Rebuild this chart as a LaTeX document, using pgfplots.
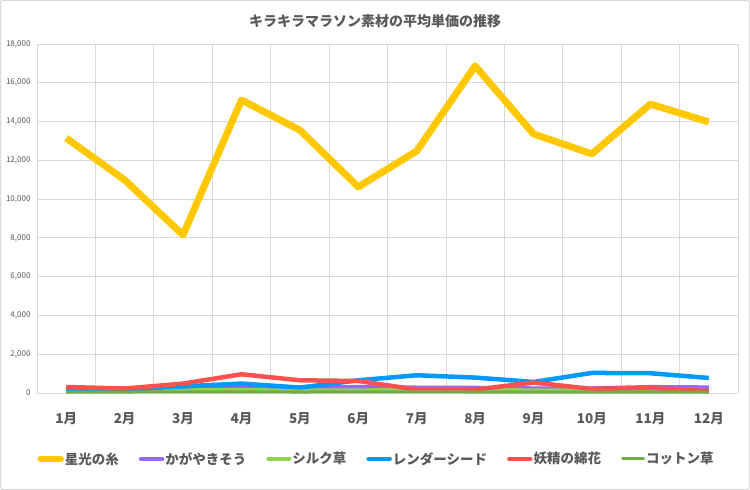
\documentclass[border=0pt]{standalone}
\usepackage{pgfplots}
\pgfplotsset{compat=1.18}
\usepackage{fontspec}
\setmainfont{Noto Sans CJK JP}
\definecolor{cyel}{HTML}{FFC800}
\definecolor{cpur}{HTML}{9966FF}
\definecolor{clgr}{HTML}{92D050}
\definecolor{cblu}{HTML}{0099FF}
\definecolor{cred}{HTML}{FF5050}
\definecolor{cdgr}{HTML}{70AD47}
\definecolor{ctxt}{HTML}{595959}
\definecolor{cgrid}{HTML}{D9D9D9}
\begin{document}
\begin{tikzpicture}[x=1pt,y=1pt]
\path[use as bounding box] (0,0) rectangle (750,490);
\draw[cgrid, line width=1pt, rounded corners=2pt] (0.5,0.5) rectangle (749.5,489.5);
\node[text=ctxt, font=\fontsize{14}{16}\selectfont\bfseries] at (375,469) {キラキラマラソン素材の平均単価の推移};
\begin{axis}[
  at={(37pt,97pt)}, anchor=south west,
  width=701pt, height=349pt, scale only axis,
  xmin=0.5, xmax=12.5, ymin=0, ymax=18000,
  xtick={1,...,12},
  xticklabels={1月,2月,3月,4月,5月,6月,7月,8月,9月,10月,11月,12月},
  minor xtick={0.5,1.5,...,12.5},
  ytick={0,2000,...,18000},
  xminorgrids=true, ymajorgrids=true, xmajorgrids=false,
  grid style={cgrid, line width=0.8pt},
  minor grid style={cgrid, line width=0.8pt},
  axis line style={draw=none},
  major tick length=0pt, minor tick length=0pt,
  tick style={draw=none},
  x tick label style={text=ctxt, font=\fontsize{13.5}{15}\selectfont\bfseries, anchor=center, yshift=-26pt},
  y tick label style={text=ctxt, font=\fontsize{8}{10}\selectfont, xshift=-3pt},
  scaled y ticks=false,
  yticklabel style={/pgf/number format/.cd, 1000 sep={,}, assume math mode=true},
  legend columns=6,
  legend style={at={(0.4836,-0.189)}, anchor=center, draw=none, fill=none,
    font=\fontsize{13.5}{15}\selectfont\bfseries, text=ctxt,
    nodes={inner xsep=1pt},
    /tikz/every even column/.append style={column sep=19pt},
    /tikz/every odd column/.append style={column sep=0pt}},
  legend cell align=left,
  legend image code/.code={\draw[#1, line cap=round] (0pt,0pt) -- (21pt,0pt);},
  every axis plot/.append style={line join=round},
]
\addplot[cyel, line width=7pt, forget plot] coordinates {(1,13150)(2,10990)(3,8150)(4,15110)(5,13560)(6,10630)(7,12480)(8,16870)(9,13360)(10,12330)(11,14900)(12,13980)};
\addlegendimage{cyel, line width=5.5pt}
\addlegendentry{星光の糸}
\addplot[cpur, line width=4.5pt] coordinates {(1,230)(2,220)(3,280)(4,310)(5,260)(6,300)(7,270)(8,260)(9,230)(10,230)(11,300)(12,280)};
\addlegendentry{かがやきそう}
\addplot[clgr, line width=4pt] coordinates {(1,120)(2,130)(3,140)(4,150)(5,130)(6,140)(7,150)(8,150)(9,140)(10,130)(11,120)(12,110)};
\addlegendentry{シルク草}
\addplot[cblu, line width=4.5pt] coordinates {(1,140)(2,175)(3,345)(4,485)(5,280)(6,655)(7,915)(8,795)(9,570)(10,1035)(11,1020)(12,775)};
\addlegendentry{レンダーシード}
\addplot[cred, line width=4.5pt] coordinates {(1,310)(2,230)(3,485)(4,965)(5,655)(6,620)(7,175)(8,175)(9,540)(10,210)(11,260)(12,100)};
\addlegendentry{妖精の綿花}
\addplot[cdgr, line width=3pt] coordinates {(1,40)(2,50)(3,60)(4,60)(5,50)(6,60)(7,60)(8,50)(9,50)(10,40)(11,50)(12,40)};
\addlegendentry{コットン草}
\end{axis}
\end{tikzpicture}
\end{document}
